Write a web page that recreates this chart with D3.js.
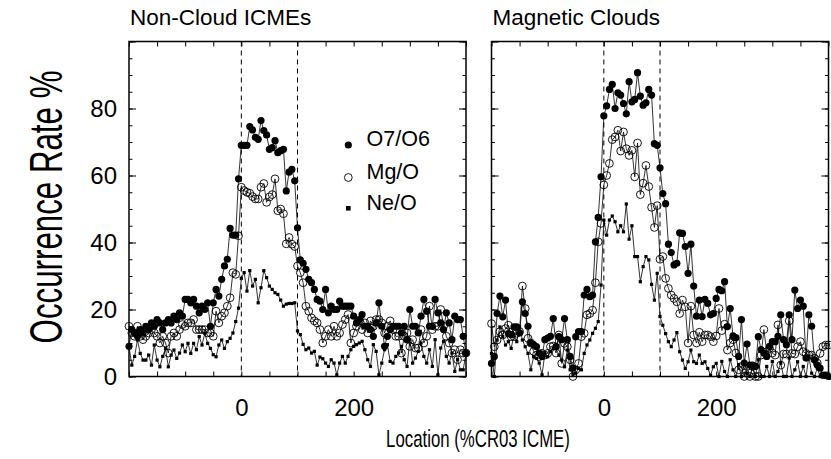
<!DOCTYPE html>
<html><head><meta charset="utf-8">
<script src="https://cdn.jsdelivr.net/npm/d3@7"></script>
<style>
body{margin:0;background:#fff}
svg{display:block}
text{font-family:"Liberation Sans",Arial,Helvetica,sans-serif;fill:#000}
</style>
</head><body><svg id="chart" width="831" height="459"></svg>
<script>
// Location (%CR03 ICME) of each bin, 5% steps
const locations = d3.range(-200, 401, 5);

// Non-Cloud ICMEs
const ncO7O6 = [
 9,14,13,12,14,13,15,14,16,15,
 17,16,14,16,17,16,18,17,19,18,
 23,23,22,23,21,19,21,20,22,15,
 22,26,24,29,33,35,44.2,42.2,42.2,59,
 69,69,69,74.6,73.6,71.4,70.8,76.4,73.4,72.1,
 67.8,68.3,70.4,66.8,67.4,67.8,55.4,61,61.8,58.4,
 44.4,34.8,33.8,32,29,28,26,23,22.5,20,
 26,19,21,20,20,22.5,21,21,21,21,
 18,16,17,18.5,15,15,14,12,16,22,
 15,9,12,14,15,15,15,13,15,11,
 20,15,15,13,18,23,19.5,15,15,23,
 19,16,14,19,16,11,18,17,17,12,
 7];
const ncMgO = [
 15,13,12,15,12,11,12,13,14,13,
 12,10,12,10,7,12,13,12,14,15.5,
 15,16,16,17,14,14,14,14,13,13,
 12,19.5,16,18,19,21,23.5,31,30.5,42,
 56.5,55.5,55,54.7,53.7,53,53,56.5,57.6,52,
 53.6,54.3,59,49.5,50,48.6,39.6,41.5,39.5,38.8,
 33,31,28,21,19.5,17.5,16.6,16,14,10,
 12,14,12,15,12,13,15.5,17,18.5,10,
 13,15,16.6,14,16,13,16.6,15,17,17,
 16,13,15,16.6,14,12,12,7,12,13,
 9,11,8.5,8.5,14,10,12,21,14,15,
 15,20,15,12,10,7,8,5,8,7,
 7];
const ncNeO = [
 8.9,3.4,6,10.9,6.9,4.9,4.9,6.4,3.4,9.4,
 4.9,2.9,6,8.4,2.9,6.4,7.9,5.4,7,9.4,
 7.4,9.9,6.9,9.9,8,11.9,9.4,12.9,9.9,8.4,
 6.5,5.9,9.4,10.9,8.4,10.4,11.4,13,16.4,20.4,
 29.3,31,25.5,31.6,27,29,22,26.5,31.6,29.5,
 27,26,25,24.5,22.8,21,21.6,21.8,21.8,22,
 13.6,12.5,9.6,8,8.5,7,7.5,3.4,5.8,5.3,
 4,3,5,4,0.5,4,6,4,6,8,
 9,9.5,10,10.5,8,5,3,9.5,7.5,0.5,
 4,8,9.5,4.5,4,6,7,9,5,3,
 11,4,5.5,7.5,10,6,4,8,3,11,
 0.5,8.5,10.5,6,4,7,1.5,5,2,2,
 7];

// Magnetic Clouds
const mcO7O6 = [
 3.9,6,18.8,24,17.8,22.8,12.8,12.5,14.8,14.8,
 13,22.3,18.8,15,10,9.5,8.9,7,6,11,
 11.5,12,17.3,8.9,11.9,11,17.3,11,6,2.5,
 11.9,13.4,13.4,24.3,26,23.8,24.3,40.2,47.5,59.6,
 77.8,80.8,85.7,87.2,80,84.7,84,81.5,78.4,88,
 82,82.7,90.7,83.7,81,81.7,85.7,84,69.5,69,
 62.3,54.6,51.6,39.5,37,33.3,33.8,42.9,42.7,38.8,
 30.8,39.5,27,18,22.8,17.9,23,21.8,18.4,18.8,
 23.3,26,25.6,28.3,14.9,20.3,12.1,11.6,6,17,
 4,9.7,3.4,3.4,3,11.9,8,7,6,9,
 10.4,10.4,12,18.4,11,9.5,18.4,11,25.8,20.3,
 22.8,21,5.5,18.4,15,5,3.4,2.5,0.4,0.4,
 0];
const mcMgO = [
 15.8,8.9,10.9,13.4,12.4,14.3,15.3,11.9,11.9,12.9,
 13.4,27,20.3,11.4,10,7.5,6.4,5.9,6.9,6.4,
 6.9,8.9,9.1,7,12.4,3.9,9.9,8.9,5,0,
 2,3.9,11.9,12.9,18.4,18.8,19.8,28,40.2,45.7,
 57.2,60,63.6,70.7,71.5,73.5,67.3,73,68,66,
 67.5,59.6,69.7,54.3,57.7,63,56.7,50.5,44.5,51,
 35,35.8,29.3,26.3,24.3,23.3,22.3,18.8,22.8,20.8,
 10,21,12.4,10,13.2,10.4,12.4,12.4,11.9,10.4,
 12.1,20.3,13.7,15.6,7.9,10,11,7,2,3,
 0,3,0,3,0,0,6.4,14,7.4,8.4,
 7,6.4,15.4,3.4,6.7,6.7,16.6,6.9,6.7,8.9,
 10.4,7.4,6.9,6.4,6.4,5.4,4,6.9,8.9,9.4,
 9.4];
const mcNeO = [
 6.9,0,10.9,14.8,11.9,9.4,10.4,8.4,12.4,10.4,
 14.8,10.9,8.9,6.9,2,5.9,5.4,4,0.5,6.9,
 5.9,7.4,8.4,8.4,6.4,4.9,2.9,7.9,2,0.5,
 1,2.4,2,6.9,9.4,10.9,12.9,14.4,16.4,27.3,
 46.7,42.2,46.7,47.9,46.2,43.2,45,43.2,51.5,41,
 45,35.8,35.8,28.3,32.8,35.8,34.8,27.5,22.8,30.8,
 17.9,15.3,12.8,10.4,8.9,10.9,13.1,7.4,4.9,2.4,
 4.4,7.9,4.4,3.9,6.4,3.9,4.4,2.4,0.4,2.9,
 3.9,0,4.5,1.5,0,5,2,0,3.5,0,
 4.5,1,0,2.5,0,5,0,0,3,0,
 4.5,0,1.5,4,0,0,5.5,0,2,4.4,
 0,3,0,6,1,0,2.5,0,0,0.5,
 0];

const panelTitles = ["Non-Cloud ICMEs", "Magnetic Clouds"];
const seriesNames = ["O7/O6", "Mg/O", "Ne/O"];
const xTickLabels = [0, 200];
const yTickLabels = [0, 20, 40, 60, 80];
const icmeEdges = [0, 100];
const xLabel = "Location (%CR03 ICME)";
const yLabel = "Occurrence Rate %";

const svg = d3.select("#chart");
const TOP = 41.5, BOTTOM = 376.5, W = 337;
const y = d3.scaleLinear().domain([0, 100]).range([BOTTOM, TOP]);

const panels = [
  {left: 129, title: panelTitles[0], series: [ncO7O6, ncMgO, ncNeO], yLabels: true, legend: true},
  {left: 491.5, title: panelTitles[1], series: [mcO7O6, mcMgO, mcNeO], yLabels: false, legend: false}
];

function marker(sel, kind, cx, cy) {
  if (kind === 0) {
    sel.append("circle").attr("cx", cx).attr("cy", cy).attr("r", 3.6).attr("fill", "#000");
  } else if (kind === 1) {
    sel.append("circle").attr("cx", cx).attr("cy", cy).attr("r", 3.9)
      .attr("fill", "none").attr("stroke", "#000").attr("stroke-width", 0.9);
  } else {
    sel.append("rect").attr("x", cx - 1.6).attr("y", cy - 1.6).attr("width", 3.2).attr("height", 3.2).attr("fill", "#000");
  }
}

panels.forEach(p => {
  const x = d3.scaleLinear().domain([-200, 400]).range([p.left, p.left + W]);
  const g = svg.append("g");

  // minor/major ticks (inward) on four sides
  const xt = d3.range(-200, 401, 50);
  const ytMinor = d3.range(0, 101, 5);
  const ytMajor = d3.range(0, 101, 20);
  const clean = s => { s.select(".domain").remove(); s.selectAll("text").remove(); s.selectAll("line").attr("stroke", "#000").attr("stroke-width", 1); };
  g.append("g").attr("transform", `translate(0,${BOTTOM})`).call(d3.axisBottom(x).tickValues(xt).tickSize(-5)).call(clean);
  g.append("g").attr("transform", `translate(0,${TOP})`).call(d3.axisTop(x).tickValues(xt).tickSize(-5)).call(clean);
  g.append("g").attr("transform", `translate(${p.left},0)`).call(d3.axisLeft(y).tickValues(ytMinor).tickSize(-3.5)).call(clean);
  g.append("g").attr("transform", `translate(${p.left},0)`).call(d3.axisLeft(y).tickValues(ytMajor).tickSize(-7)).call(clean);
  g.append("g").attr("transform", `translate(${p.left + W},0)`).call(d3.axisRight(y).tickValues(ytMinor).tickSize(-3.5)).call(clean);
  g.append("g").attr("transform", `translate(${p.left + W},0)`).call(d3.axisRight(y).tickValues(ytMajor).tickSize(-7)).call(clean);

  // tick labels
  const xl = g.append("g").attr("transform", `translate(0,${BOTTOM})`)
    .call(d3.axisBottom(x).tickValues(xTickLabels).tickSize(0).tickPadding(22.5).tickFormat(d3.format("d")));
  xl.select(".domain").remove();
  xl.selectAll("text").style("font-size", "24px").style("font-family", "'Liberation Sans',Arial,sans-serif").attr("fill", "#000");
  if (p.yLabels) {
    const yl = g.append("g").attr("transform", `translate(${p.left},0)`)
      .call(d3.axisLeft(y).tickValues(yTickLabels).tickSize(0).tickPadding(12).tickFormat(d3.format("d")));
    yl.select(".domain").remove();
    yl.selectAll("text").style("font-size", "24px").style("font-family", "'Liberation Sans',Arial,sans-serif").attr("fill", "#000");
  }

  // ICME boundaries
  icmeEdges.forEach(e => {
    g.append("line").attr("x1", x(e)).attr("x2", x(e)).attr("y1", TOP).attr("y2", BOTTOM)
      .attr("stroke", "#000").attr("stroke-width", 1).attr("stroke-dasharray", "5,4");
  });

  // series: draw lines then markers, Ne/O first
  const line = d3.line().x((d, i) => x(locations[i])).y(d => y(d));
  [2, 1, 0].forEach(k => {
    const vals = p.series[k];
    g.append("path").datum(vals).attr("d", line).attr("fill", "none")
      .attr("stroke", "#000").attr("stroke-width", 0.8);
  });
  [2, 1, 0].forEach(k => {
    const vals = p.series[k];
    const mg = g.append("g");
    vals.forEach((v, i) => marker(mg, k, x(locations[i]), y(v)));
  });

  // frame
  g.append("rect").attr("x", p.left).attr("y", TOP).attr("width", W).attr("height", BOTTOM - TOP)
    .attr("fill", "none").attr("stroke", "#000").attr("stroke-width", 1.5);

  // title
  svg.append("text").attr("x", p.left + 1).attr("y", 25).style("font-size", "22.5px").text(p.title);

  // legend
  if (p.legend) {
    const ly = [146, 178.5, 209.5];
    seriesNames.forEach((n, k) => {
      const lg = svg.append("g");
      if (k === 2) {
        lg.append("rect").attr("x", 348.3 - 2.3).attr("y", ly[k] - 3.5).attr("width", 4.6).attr("height", 4.6).attr("fill", "#000");
      } else {
        marker(lg, k, 348.3, ly[k] - 1);
      }
      svg.append("text").attr("x", 366.5).attr("y", ly[k]).style("font-size", "21.5px").text(n);
    });
  }
});

// axis titles (drawn condensed along the reading direction)
svg.append("text").attr("transform", "translate(478,447) scale(0.7,1)")
  .attr("text-anchor", "middle").style("font-size", "24px").text(xLabel);
svg.append("text").attr("transform", "translate(62,207) rotate(-90) scale(0.68,1)")
  .attr("text-anchor", "middle").style("font-size", "46px").text(yLabel);
</script>
</body></html>
